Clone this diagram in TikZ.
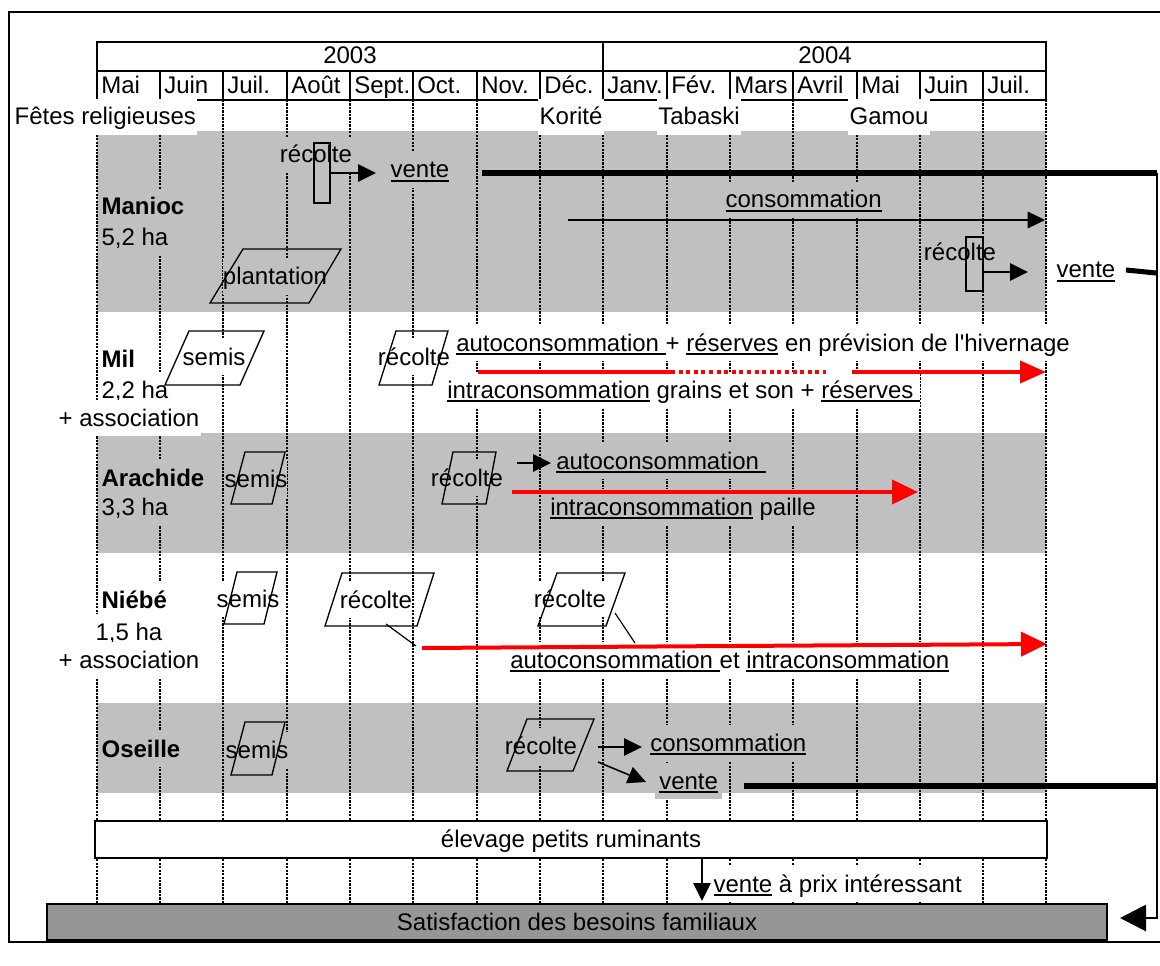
\documentclass[tikz,border=0pt]{standalone}
\usepackage{fontspec}
\setmainfont{Liberation Sans}
\newfontfamily\chartfont{Liberation Sans}
\usetikzlibrary{arrows.meta}

\definecolor{bandgray}{HTML}{C0C0C0}
\definecolor{boxgray}{HTML}{969696}
\definecolor{flowred}{HTML}{FF0000}

% underline drawn as a rule under the word
\newcommand\undl[1]{\setbox0=\hbox{#1}\rlap{\rule[-3pt]{\wd0}{1.3pt}}\box0\relax}

\tikzset{
  lbl/.style={inner xsep=1pt, inner ysep=3pt, text height=16.2pt, text depth=4.2pt, fill=white},
  ong/.style={fill=bandgray},
  bare/.style={inner sep=0pt, text height=16.2pt, text depth=4.2pt},
  gridline/.style={line width=1.6pt, dash pattern=on 1.7pt off 0.9pt},
  hdr/.style={line width=2pt},
  shapeline/.style={line width=1pt},
  arr/.style={line width=1.2pt, -{Triangle[length=13.5pt,width=13pt]}},
  thinarr/.style={line width=0.9pt, -{Triangle[length=13pt,width=12.5pt]}},
  redarr/.style={flowred, line width=3pt, -{Triangle[length=19.5pt,width=18pt]}},
  redline/.style={flowred, line width=3pt},
  heavy/.style={line width=3.8pt},
  returnline/.style={line width=2.2pt},
}

\begin{document}
\begin{tikzpicture}[x=0.75pt, y=-0.75pt, font=\chartfont\fontsize{18}{21}\selectfont]
\useasboundingbox (0,0) rectangle (1160,966);

% crop bands
\fill[bandgray] (97,131) rectangle (1046,312);
\fill[bandgray] (97,433) rectangle (1046,553);
\fill[bandgray] (97,703) rectangle (1046,793);

% month grid
\foreach \x in {97,160,223,287,350,413,477,540,603,667,730,793,857,920,983,1046}
  \draw[gridline] (\x,100) -- (\x,903);

% calendar header
\draw[hdr, fill=white] (97,42) rectangle (1046,100);
\draw[hdr] (97,71) -- (1046,71);
\draw[hdr] (603,42) -- (603,71);
\foreach \x in {160,223,287,350,413,477,540,603,667,730,793,857,920,983}
  \draw[hdr] (\x,71) -- (\x,100);
\node[bare] (y2003) at (350,56) {2003};
\node[bare] (y2004) at (825,56) {2004};
\foreach \x/\t [count=\i] in {97/Mai,160/Juin,223/Juil.,287/Août,350/Sept.,413/Oct.,477/Nov.,540/Déc.,603/Janv.,667/Fév.,730/Mars,793/Avril,857/Mai,920/Juin,983/Juil.}
  \node[bare, anchor=west] (m\i) at ({\x+4},86) {\t};

% religious festivals
\node[lbl, anchor=west] (fetes) at (13,117) {Fêtes religieuses};
\node[lbl] (korite) at (571,117) {Korité};
\node[lbl] (tabaski) at (699,117) {Tabaski};
\node[lbl] (gamou) at (889,117) {Gamou};

% livestock and household needs
\draw[line width=1.1pt, fill=white] (95,821) rectangle (1047,858);
\node[bare] (elevage) at (571,839) {élevage petits ruminants};
\draw[line width=1.1pt, fill=boxgray] (47,904) rectangle (1107,940);
\node[bare] (besoins) at (577,922) {Satisfaction des besoins familiaux};
\node[lbl, anchor=west] (venteprix) at (712,884) {\undl{vente} à prix intéressant};

% Manioc
\node[lbl, ong, anchor=west] (manioc) at (100,207) {\bfseries Manioc};
\node[lbl, ong, anchor=west] (maniocha) at (100,238) {5,2 ha};
\node[lbl, ong, inner xsep=0pt] (mrecA) at (316,155) {récolte};
\node[lbl, ong, anchor=west] (mventeA) at (389,170) {\undl{vente}};
\node[lbl, ong, anchor=west] (mconso) at (724,200) {\undl{consommation}};
\node[lbl, ong, inner xsep=0pt] (mrecB) at (960,253) {récolte};
\node[lbl, fill=white, anchor=west] (mventeB) at (1055,270) {\undl{vente}};
\node[lbl, ong, inner xsep=0pt] (mplant) at (275,277) {plantation};

% Mil
\node[lbl, anchor=west] (mil) at (100,359) {\bfseries Mil};
\node[lbl, anchor=west] (milha) at (100,390) {2,2 ha};
\node[lbl] (milassoc) at (129,418) {+ association};
\node[lbl, inner xsep=0pt] (milsemis) at (214,357) {semis};
\node[lbl, inner xsep=0pt] (milrec) at (414,357) {récolte};
\node[lbl, anchor=west, inner xsep=0pt] (milauto) at (456,343)
  {\undl{autoconsommation\ }+ \undl{réserves} en prévision de l'hivernage};
\node[lbl, anchor=west, inner xsep=0pt] (milintra) at (447,390)
  {\undl{intraconsommation} grains et son + \undl{réserves\ }};

% Arachide
\node[lbl, ong, anchor=west] (arachide) at (100,478) {\bfseries Arachide};
\node[lbl, ong, anchor=west] (arachideha) at (100,507) {3,3 ha};
\node[lbl, ong, inner xsep=0pt] (arsemis) at (256,479) {semis};
\node[lbl, ong, inner xsep=0pt] (arrec) at (467,478) {récolte};
\node[lbl, ong, anchor=west, inner xsep=0pt] (arauto) at (556,461) {\undl{autoconsommation\ }};
\node[lbl, ong, anchor=west, inner xsep=0pt] (arintra) at (550,507) {\undl{intraconsommation} paille};

% Niebe
\node[lbl, anchor=west] (niebe) at (100,600) {\bfseries Niébé};
\node[lbl] (niebeha) at (129,632) {1,5 ha};
\node[lbl] (niebeassoc) at (129,660) {+ association};
\node[lbl, inner xsep=0pt] (nisemis) at (248,599) {semis};
\node[lbl, inner xsep=0pt] (nirecA) at (376,600) {récolte};
\node[lbl, inner xsep=0pt] (nirecB) at (570,599) {récolte};
\node[lbl, anchor=west, inner xsep=0pt] (niconso) at (510,660)
  {\undl{autoconsommation\ }et \undl{intraconsommation}};

% Oseille
\node[lbl, ong, anchor=west] (oseille) at (100,749) {\bfseries Oseille};
\node[lbl, ong, inner xsep=0pt] (ossemis) at (257,750) {semis};
\node[lbl, ong, inner xsep=0pt] (osrec) at (541,746) {récolte};
\node[lbl, ong, anchor=west, inner xsep=0pt] (osconso) at (650,743) {\undl{consommation}};
\node[lbl, ong, anchor=west, inner xsep=3pt, inner ysep=3.5pt] (osvente) at (655,781) {\undl{vente}};

% harvest markers
\node[draw, shapeline, minimum width=16*0.75pt, minimum height=60*0.75pt, inner sep=0pt] (mrectA) at (322,173) {};
\node[draw, shapeline, minimum width=17*0.75pt, minimum height=54*0.75pt, inner sep=0pt] (mrectB) at (974.5,264) {};

% operation parallelograms
\draw[shapeline] (210,303) -- (309,303) -- (341,249) -- (243,249) -- cycle;
\draw[shapeline] (165,385) -- (240,385) -- (264,331) -- (189,331) -- cycle;
\draw[shapeline] (379,385) -- (432,385) -- (448,331) -- (396,331) -- cycle;
\draw[shapeline] (231,504) -- (272,504) -- (285,452) -- (245,452) -- cycle;
\draw[shapeline] (442,504) -- (486,504) -- (496,452) -- (453,452) -- cycle;
\draw[shapeline] (224,624) -- (264,624) -- (277,572) -- (237,572) -- cycle;
\draw[shapeline] (325,626) -- (417,626) -- (434,573) -- (342,573) -- cycle;
\draw[shapeline] (538,626) -- (606,626) -- (625,573) -- (557,573) -- cycle;
\draw[shapeline] (231,775) -- (272,775) -- (285,722) -- (245,722) -- cycle;
\draw[shapeline] (507,771) -- (573,771) -- (594,719) -- (527,719) -- cycle;

% connector end points
\coordinate (tipA) at (376,173);
\coordinate (consoS) at (568,220);
\coordinate (consoE) at (1045,220);
\coordinate (recBout) at (983,272);
\coordinate (tipB) at (1028,272);
\coordinate (venteBs) at (1126,270);
\coordinate (venteBe) at (1156,273);
\coordinate (saleS) at (482,173);
\coordinate (railTop) at (1157,173);
\coordinate (railBot) at (1157,918);
\coordinate (railTip) at (1120,918);
\coordinate (milR1) at (478,372);
\coordinate (milR2) at (671,372);
\coordinate (milR3) at (826,372);
\coordinate (milR4) at (852,372);
\coordinate (milR5) at (1046,372);
\coordinate (arSmallS) at (517,463);
\coordinate (arSmallE) at (551,463);
\coordinate (arRedS) at (512,492);
\coordinate (arRedE) at (918,492);
\coordinate (niRedS) at (422,648);
\coordinate (niRedE) at (1047,644);
\coordinate (niA1) at (386,624);
\coordinate (niA2) at (416,646);
\coordinate (niB1) at (615,613);
\coordinate (niB2) at (635,643);
\coordinate (osA) at (598,747);
\coordinate (osAe) at (642,747);
\coordinate (osB) at (598,762);
\coordinate (osBe) at (646,782);
\coordinate (osSale) at (744,786);
\coordinate (osRail) at (1157,786);
\coordinate (elevOut) at (702,858);
\coordinate (elevTip) at (702,901);

% Manioc flows
\draw[arr] (mrectA.east |- tipA) -- (tipA);
\draw[thinarr] (consoS) -- (consoE);
\draw[arr] (recBout) -- (tipB);
\draw[heavy] (venteBs) -- (venteBe);

% sales rail towards household needs
\draw[heavy] (saleS) -- (railTop);
\draw[heavy] (osSale) -- (osRail);
\draw[returnline, -{Triangle[length=19.5pt,width=19.5pt]}] (railTop) -- (railBot) -- (railTip);

% Mil flows
\draw[redline] (milR1) -- (milR2);
\draw[redline, dash pattern=on 3pt off 2.7pt] (milR2) -- (milR3);
\draw[redarr, -{Triangle[length=19.5pt,width=16.5pt]}] (milR4) -- (milR5);

% Arachide flows
\draw[arr] (arSmallS) -- (arSmallE);
\draw[redarr] (arRedS) -- (arRedE);

% Niebe flows
\draw[line width=0.9pt] (niA1) -- (niA2);
\draw[line width=0.9pt] (niB1) -- (niB2);
\draw[redarr] (niRedS) -- (niRedE);

% Oseille flows
\draw[arr] (osA) -- (osAe);
\draw[arr] (osB) -- (osBe);

% livestock sales
\draw[arr] (elevOut) -- (elevTip);

% outer frame
\draw[line width=2.2pt] (1160,12) -- (9,12) -- (9,942) -- (1160,942);
\end{tikzpicture}
\end{document}
